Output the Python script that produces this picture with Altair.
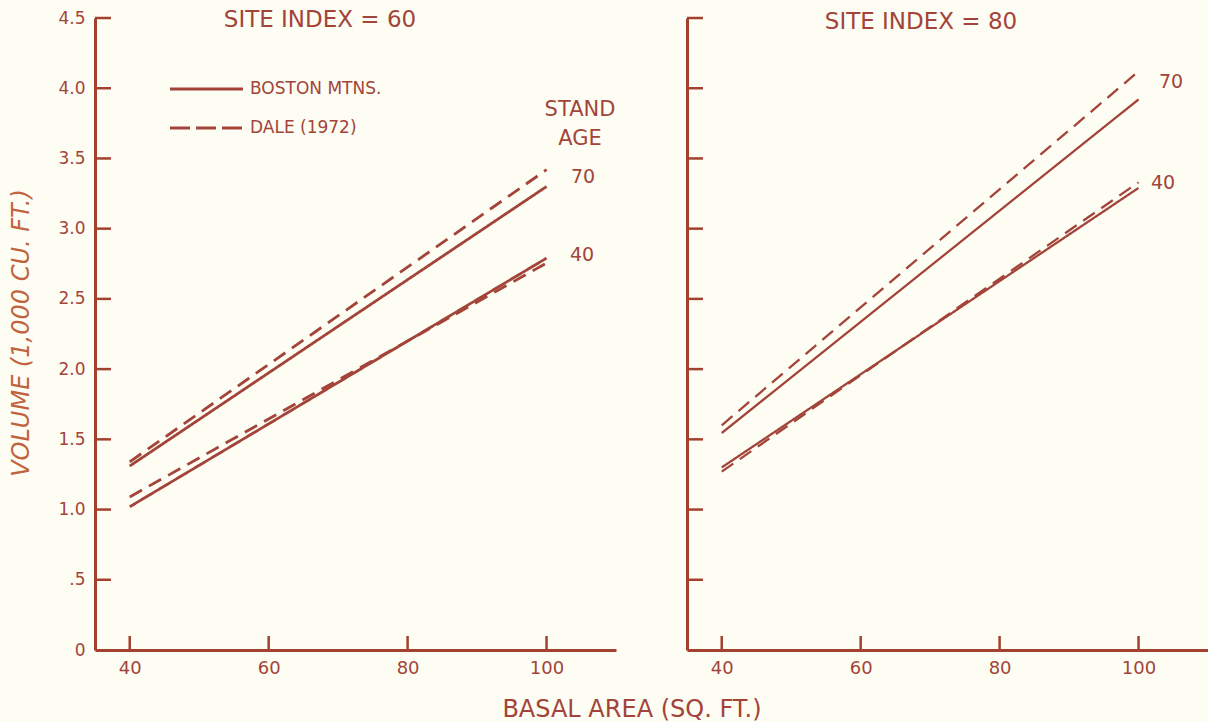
import altair as alt
import pandas as pd

# Basal area (sq. ft.) at which each fitted line is evaluated
basal_area = [40, 100]

# Volume (1,000 cu. ft.), site index 60
si60_boston_age70 = [1.31, 3.30]
si60_dale_age70 = [1.34, 3.42]
si60_boston_age40 = [1.02, 2.79]
si60_dale_age40 = [1.09, 2.755]

# Volume (1,000 cu. ft.), site index 80
si80_boston_age70 = [1.545, 3.92]
si80_dale_age70 = [1.60, 4.12]
si80_boston_age40 = [1.30, 3.29]
si80_dale_age40 = [1.27, 3.33]

sources = ["BOSTON MTNS.", "DALE (1972)"]
x_tick_values = [40, 60, 80, 100]
y_tick_values = [0.5, 1.0, 1.5, 2.0, 2.5, 3.0, 3.5, 4.0, 4.5]
y_label_values = [0, 0.5, 1.0, 1.5, 2.0, 2.5, 3.0, 3.5, 4.0, 4.5]

series = [
    (60, "BOSTON MTNS.", 70, si60_boston_age70),
    (60, "DALE (1972)", 70, si60_dale_age70),
    (60, "BOSTON MTNS.", 40, si60_boston_age40),
    (60, "DALE (1972)", 40, si60_dale_age40),
    (80, "BOSTON MTNS.", 70, si80_boston_age70),
    (80, "DALE (1972)", 70, si80_dale_age70),
    (80, "BOSTON MTNS.", 40, si80_boston_age40),
    (80, "DALE (1972)", 40, si80_dale_age40),
]
rows = []
for site, src, age, vols in series:
    for ba, v in zip(basal_area, vols):
        rows.append({"site": site, "source": src, "age": age, "ba": ba, "vol": v})
df = pd.DataFrame(rows)

INK = "#a3443a"
AXIS_INK = "#a2412f"
TITLE_INK = "#c2633f"
BG = "#fdfdf3"
FONT = "DejaVu Sans"
W, H = 521, 632

x_scale = alt.Scale(domain=[35, 110], nice=False, zero=False)
y_scale = alt.Scale(domain=[0, 4.5], nice=False)

x_axis = alt.Axis(values=x_tick_values, ticks=False, title=None, grid=False,
                  domainColor=AXIS_INK, domainWidth=3, labelColor=INK,
                  labelFont=FONT, labelFontSize=18, labelPadding=9)
y_axis_left = alt.Axis(values=y_label_values, ticks=False, title=None, grid=False,
                       domainColor=AXIS_INK, domainWidth=3, labelColor=INK,
                       labelFont=FONT, labelFontSize=17, labelPadding=10,
                       labelExpr="datum.value == 0 ? '0' : datum.value < 1 ? '.5' : format(datum.value, '.1f')")
y_axis_right = alt.Axis(values=y_label_values, ticks=False, labels=False, title=None,
                        grid=False, domainColor=AXIS_INK, domainWidth=3)


def text(label, px, py, size, align="center", color=INK, **kw):
    return alt.Chart(pd.DataFrame({"label": [label]})).mark_text(
        align=align, baseline="middle", font=FONT, fontSize=size, color=color, **kw
    ).encode(x=alt.value(px), y=alt.value(py), text="label:N")


def panel(site, y_axis, line_width, extras):
    X = alt.X("ba:Q", scale=x_scale, axis=x_axis)
    Y = alt.Y("vol:Q", scale=y_scale, axis=y_axis)
    lines = alt.Chart(df[df.site == site]).mark_line(color=INK, strokeWidth=line_width).encode(
        x=X, y=Y,
        strokeDash=alt.StrokeDash("source:N", scale=alt.Scale(domain=sources, range=[[1, 0], [14, 8]]), legend=None),
        detail="age:N",
    )
    yticks = alt.Chart(pd.DataFrame({"vol": y_tick_values})).mark_rule(
        color=AXIS_INK, strokeWidth=2.5).encode(
        y=Y, x=alt.value(0), x2=alt.value(16))
    xticks = alt.Chart(pd.DataFrame({"ba": x_tick_values})).mark_rule(
        color=AXIS_INK, strokeWidth=2.5).encode(
        x=X, y=alt.value(H), y2=alt.value(H - 14))
    return alt.layer(lines, yticks, xticks, *extras).properties(width=W, height=H)


legend_key = [
    alt.Chart(pd.DataFrame({"k": [0]})).mark_rule(color=INK, strokeWidth=3).encode(
        x=alt.value(75), x2=alt.value(148), y=alt.value(71)),
    alt.Chart(pd.DataFrame({"k": [0]})).mark_rule(color=INK, strokeWidth=3, strokeDash=[20, 6]).encode(
        x=alt.value(75), x2=alt.value(148), y=alt.value(110)),
    text("BOSTON MTNS.", 155, 71, 17, align="left"),
    text("DALE (1972)", 155, 110, 17, align="left"),
]

left = panel(60, y_axis_left, 2.8, [
    text("SITE INDEX = 60", 225, 2, 23),
    *legend_key,
    text("STAND", 485, 92, 21),
    text("AGE", 485, 121, 21),
    text("70", 476, 159, 19, align="left"),
    text("40", 475, 237, 19, align="left"),
    text("VOLUME (1,000 CU. FT.)", -73, 315, 24, color=TITLE_INK, angle=270, fontStyle="italic"),
])

right = panel(80, y_axis_right, 2.3, [
    text("SITE INDEX = 80", 234, 4, 23),
    text("70", 472, 64, 19, align="left"),
    text("40", 464, 165, 19, align="left"),
])

chart = alt.hconcat(left, right, spacing=69).properties(
    background=BG,
    padding={"left": 10, "top": 9, "right": 0, "bottom": 0},
    title=alt.TitleParams("BASAL AREA (SQ. FT.)", orient="bottom", anchor="middle",
                          font=FONT, fontSize=24, fontWeight="normal", color=INK,
                          offset=21, dx=23),
).configure_view(strokeWidth=0)

chart.save("out.html", embed_options={"renderer": "svg", "actions": False})
